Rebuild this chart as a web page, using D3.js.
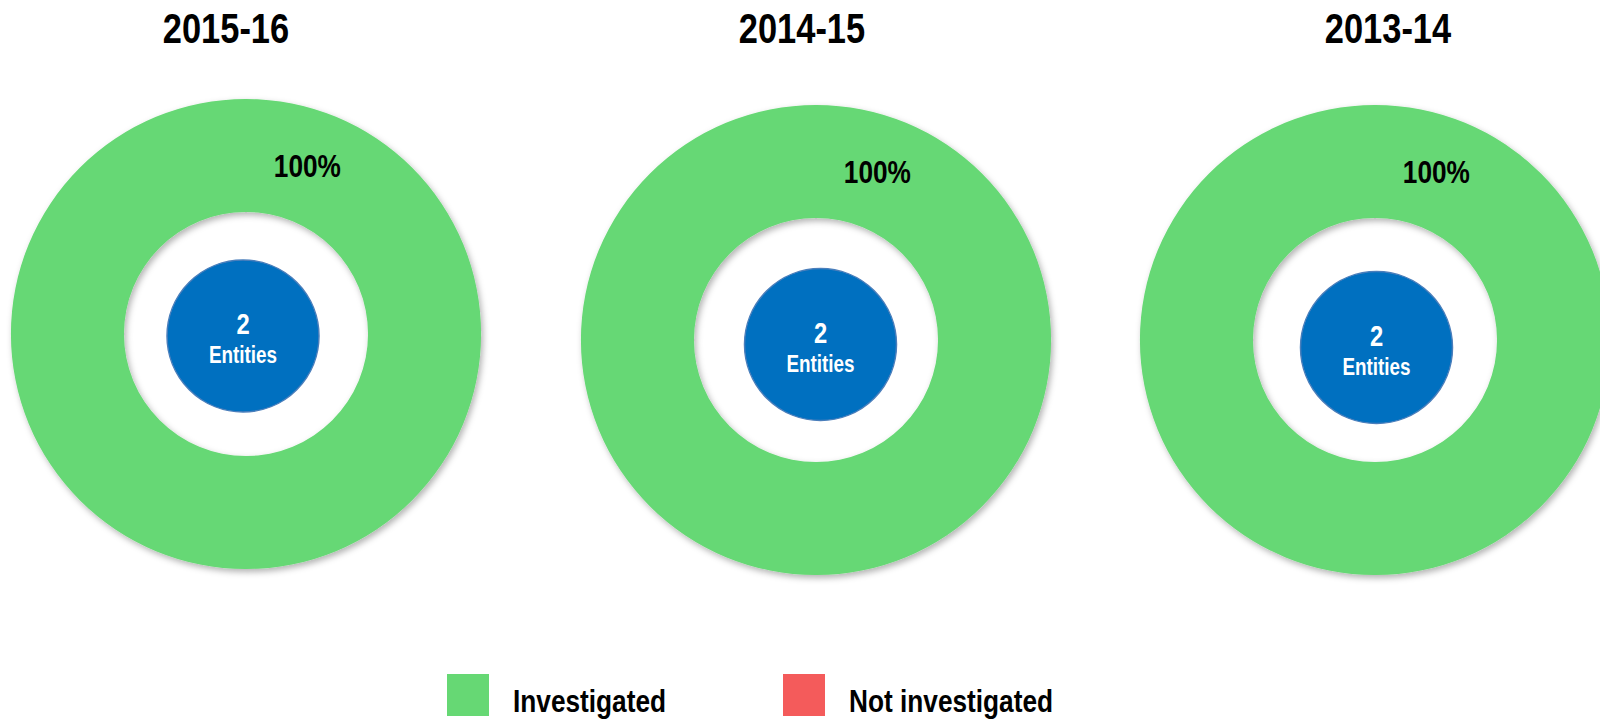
<!DOCTYPE html>
<html>
<head>
<meta charset="utf-8">
<script src="https://cdn.jsdelivr.net/npm/d3@7"></script>
<style>
  html, body { margin: 0; padding: 0; background: #fff; overflow: hidden; }
  svg text { font-family: "Liberation Sans", Arial, sans-serif; font-weight: bold; }
</style>
</head>
<body>
<svg id="chart" width="1600" height="720"></svg>
<script>
// data
const years = ["2015-16", "2014-15", "2013-14"];
const investigated = [100, 100, 100];
const notInvestigated = [0, 0, 0];
const entities = [2, 2, 2];
const categories = ["Investigated", "Not investigated"];

const OUTER_R = 235;
const INNER_R = 122;
const CORE_R = 76;
// the original uses a narrow bold face, squeeze the regular one to match
const NARROW = 0.82;
const narrow = (x, y) => `translate(${x},${y}) scale(${NARROW},1)`;

const colour = d3.scaleOrdinal().domain(categories).range(["#66d874", "#f45b5b"]);

// donut centres are not evenly spaced in the original
const cx = d3.scaleOrdinal().domain(years).range([246, 816, 1375]);
const cy = d3.scaleOrdinal().domain(years).range([334, 340, 340]);
const titleX = d3.scaleOrdinal().domain(years).range([226, 802, 1388]);

const svg = d3.select("#chart");

const defs = svg.append("defs");
const shadow = defs.append("filter")
  .attr("id", "shadow")
  .attr("x", "-10%").attr("y", "-10%")
  .attr("width", "120%").attr("height", "120%");
shadow.append("feDropShadow")
  .attr("dx", 2).attr("dy", 3)
  .attr("stdDeviation", 3)
  .attr("flood-color", "#000")
  .attr("flood-opacity", 0.3);

const pie = d3.pie().sort(null).value((d) => d.value);
const arc = d3.arc().innerRadius(INNER_R).outerRadius(OUTER_R);
const labelArc = d3.arc().innerRadius(179).outerRadius(179);

const rows = years.map((year, i) => ({
  year,
  entities: entities[i],
  slices: [
    { key: categories[0], value: investigated[i] },
    { key: categories[1], value: notInvestigated[i] },
  ],
}));

const donut = svg.selectAll("g.donut")
  .data(rows)
  .join("g")
  .attr("class", "donut")
  .attr("transform", (d) => `translate(${cx(d.year)},${cy(d.year)})`);

// slices
donut.append("g")
  .attr("filter", "url(#shadow)")
  .selectAll("path")
  .data((d) => pie(d.slices).filter((s) => s.value > 0))
  .join("path")
  .attr("d", arc)
  .attr("fill", (d) => colour(d.data.key));

// percentage labels (only for non-empty slices)
donut.selectAll("text.pct")
  .data((d) => {
    const total = d3.sum(d.slices, (s) => s.value);
    return d.slices
      .filter((s) => s.value > 0)
      .map((s) => ({ ...s, pct: s.value / total }));
  })
  .join("text")
  .attr("class", "pct")
  .attr("transform", () => {
    const [x, y] = labelArc.centroid({ startAngle: 0.35, endAngle: 0.35 });
    return narrow(x, y);
  })
  .attr("text-anchor", "middle")
  .attr("dy", "0.36em")
  .attr("font-size", 32)
  .attr("fill", "#000")
  .text((d) => d3.format(".0%")(d.pct));

// centre circle with the number of entities
const core = donut.append("g")
  .attr("transform", (d, i) => `translate(${[-3, 4.5, 1.5][i]},${[2, 4.5, 7.5][i]})`);

core.append("circle")
  .attr("r", CORE_R)
  .attr("fill", "#0070c0")
  .attr("stroke", "#4a7ebb")
  .attr("stroke-width", 1.5);

core.append("text")
  .attr("text-anchor", "middle")
  .attr("transform", narrow(0, -2))
  .attr("font-size", 29)
  .attr("fill", "#fff")
  .text((d) => d.entities);

core.append("text")
  .attr("text-anchor", "middle")
  .attr("transform", narrow(0, 27))
  .attr("font-size", 23)
  .attr("fill", "#fff")
  .text("Entities");

// titles
svg.selectAll("text.title")
  .data(years)
  .join("text")
  .attr("class", "title")
  .attr("transform", (d) => narrow(titleX(d), 43))
  .attr("text-anchor", "middle")
  .attr("font-size", 42)
  .attr("fill", "#000")
  .text((d) => d);

// legend
const legendX = d3.scaleOrdinal().domain(categories).range([447, 783]);
const legend = svg.selectAll("g.legend")
  .data(categories)
  .join("g")
  .attr("class", "legend")
  .attr("transform", (d) => `translate(${legendX(d)},674)`);

legend.append("rect")
  .attr("width", 42)
  .attr("height", 42)
  .attr("fill", (d) => colour(d));

legend.append("text")
  .attr("transform", narrow(66, 38))
  .attr("font-size", 32)
  .attr("fill", "#000")
  .text((d) => d);
</script>
</body>
</html>
